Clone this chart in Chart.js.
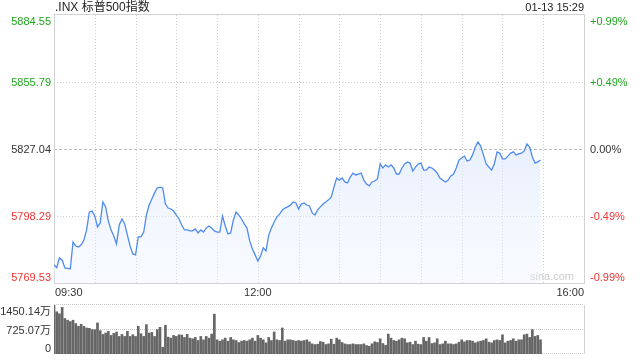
<!DOCTYPE html>
<html>
<head>
<meta charset="utf-8">
<script src="https://cdn.jsdelivr.net/npm/chart.js@4.4.0/dist/chart.umd.min.js"></script>
<style>
  html, body { margin: 0; padding: 0; background: #fff; }
  #wrap { position: relative; width: 640px; height: 360px; }
  #price { position: absolute; left: 0; top: 0; }
  #vol { position: absolute; left: 0; top: 298px; }
</style>
</head>
<body>
<div id="wrap">
  <canvas id="price" width="640" height="298"></canvas>
  <canvas id="vol" width="640" height="62"></canvas>
</div>
<script>
// index name + timestamp
const title = '.INX 标普500指数';
const stamp = '01-13 15:29';

// axis ticks
const priceTicks = [5884.55, 5855.79, 5827.04, 5798.29, 5769.53];
const pctTicks = ['+0.99%', '+0.49%', '0.00%', '-0.49%', '-0.99%'];
const timeTicks = ['09:30', '12:00', '16:00'];
const volTicks = [1450.14, 725.07, 0];
const volTickLabels = ['1450.14万', '725.07万', '0'];

// price, every 2 minutes from 09:30 to 15:28
const prices = [
  5777.3, 5776.1, 5780.3, 5779.4, 5776.0, 5775.8, 5775.6, 5787.1, 5785.4, 5785.0,
  5785.9, 5788.0, 5792.3, 5800.0, 5800.4, 5798.3, 5793.6, 5795.3, 5804.3, 5802.2,
  5796.1, 5792.3, 5789.7, 5786.3, 5794.4, 5797.0, 5794.9, 5790.1, 5785.4, 5782.0,
  5781.6, 5789.3, 5789.3, 5791.4, 5798.7, 5803.0, 5805.6, 5808.2, 5810.3, 5810.7,
  5810.3, 5803.4, 5801.7, 5801.3, 5800.4, 5798.7, 5797.0, 5794.4, 5792.3, 5792.3,
  5791.9, 5791.9, 5792.7, 5791.0, 5792.3, 5791.4, 5793.1, 5794.0, 5793.1, 5791.9,
  5791.4, 5791.4, 5798.3, 5794.0, 5790.6, 5791.0, 5796.6, 5800.0, 5798.7, 5797.0,
  5794.9, 5793.1, 5787.6, 5784.1, 5781.6, 5779.0, 5781.1, 5784.6, 5783.3, 5790.1,
  5793.1, 5795.7, 5797.9, 5799.1, 5800.9, 5801.7, 5802.2, 5803.0, 5804.3, 5803.9,
  5801.3, 5803.4, 5803.9, 5803.0, 5802.6, 5799.6, 5798.7, 5800.9, 5802.2, 5803.4,
  5804.3, 5805.2, 5806.4, 5810.7, 5814.6, 5813.7, 5814.6, 5812.9, 5812.5, 5815.0,
  5816.7, 5815.9, 5816.3, 5816.7, 5813.7, 5812.0, 5811.2, 5812.9, 5813.3, 5814.2,
  5820.6, 5818.9, 5820.2, 5819.3, 5820.2, 5818.9, 5816.3, 5816.3, 5818.9, 5820.6,
  5821.5, 5821.0, 5817.6, 5819.3, 5820.6, 5821.0, 5818.0, 5818.0, 5819.3, 5818.9,
  5818.0, 5816.7, 5814.6, 5813.7, 5812.9, 5813.7, 5815.5, 5816.3, 5818.9, 5822.3,
  5823.2, 5824.0, 5821.9, 5822.3, 5824.5, 5827.9, 5830.0, 5828.3, 5824.5, 5820.6,
  5819.3, 5818.0, 5820.6, 5825.8, 5825.3, 5822.8, 5822.8, 5824.0, 5825.3, 5825.8,
  5824.5, 5824.9, 5825.3, 5826.2, 5829.2, 5827.9, 5823.6, 5821.0, 5821.5, 5822.3
];

// volume in 万, same 2 minute buckets
const volumes = [
  1440, 1250, 1190, 1380, 1050, 1000, 960, 1000, 900, 820,
  880, 820, 770, 760, 720, 720, 920, 690, 580, 620,
  670, 550, 610, 650, 520, 580, 520, 670, 520, 570,
  520, 820, 600, 520, 870, 620, 640, 520, 720, 790,
  200, 850, 500, 470, 550, 520, 570, 560, 490, 580,
  470, 450, 490, 400, 520, 420, 520, 470, 590, 1180,
  420, 380, 420, 470, 380, 490, 420, 400, 340, 380,
  400, 380, 420, 470, 380, 550, 470, 420, 330, 490,
  400, 650, 420, 400, 770, 380, 420, 420, 400, 380,
  400, 380, 400, 420, 360, 300, 280, 290, 370, 350,
  280, 300, 440, 290, 470, 420, 340, 300, 280, 280,
  300, 280, 280, 280, 300, 250, 230, 300, 360, 340,
  450, 310, 260, 590, 470, 400, 380, 420, 470, 450,
  330, 350, 280, 380, 290, 280, 490, 380, 490, 310,
  330, 450, 280, 300, 380, 300, 300, 280, 300, 350,
  420, 360, 400, 400, 380, 330, 360, 380, 400, 450,
  350, 330, 400, 420, 400, 570, 330, 380, 400, 450,
  380, 420, 420, 570, 590, 490, 720, 520, 550, 420
];

// trading session labels 09:30 .. 16:00, 2 min apart
const times = [];
for (let m = 0; m <= 390; m += 2) {
  const t = 9 * 60 + 30 + m;
  times.push(String(Math.floor(t / 60)).padStart(2, '0') + ':' + String(t % 60).padStart(2, '0'));
}

const FONT = '"Liberation Sans", Arial, "Noto Sans CJK SC", sans-serif';
const GREEN = '#1fa81f';
const RED = '#f03434';
const DARK = '#333';
const tickColors = [GREEN, GREEN, DARK, RED, RED];

function hline(ctx, a, py) {
  ctx.beginPath();
  ctx.moveTo(a.left, py);
  ctx.lineTo(a.right, py);
  ctx.stroke();
}

const priceDeco = {
  id: 'priceDeco',
  beforeDatasetsDraw(chart) {
    const { ctx, chartArea: a, scales: { x, y } } = chart;
    ctx.save();
    ctx.lineWidth = 1;
    ctx.strokeStyle = '#cfcfcf';
    ctx.setLineDash([1, 2]);
    times.forEach((t, i) => {
      if (i === 0 || i === times.length - 1) return;
      if (!t.endsWith(':00') && !t.endsWith(':30')) return;
      const px = Math.round(x.getPixelForValue(i)) + 0.5;
      ctx.beginPath();
      ctx.moveTo(px, a.top);
      ctx.lineTo(px, a.bottom);
      ctx.stroke();
    });
    priceTicks.forEach((v, i) => {
      if (i === 0 || i === priceTicks.length - 1) return;
      ctx.setLineDash(i === 2 ? [3, 2] : [1, 2]);
      ctx.strokeStyle = i === 2 ? '#bdbdbd' : '#cfcfcf';
      hline(ctx, a, Math.round(y.getPixelForValue(v)) + 0.5);
    });
    ctx.setLineDash([]);
    ctx.strokeStyle = '#d2d2d2';
    ctx.strokeRect(Math.round(a.left) + 0.5, Math.round(a.top) - 0.5,
      Math.round(a.width), Math.round(a.height) + 1);

    // watermark
    ctx.font = '11px ' + FONT;
    ctx.fillStyle = '#cccccc';
    ctx.textAlign = 'right';
    ctx.textBaseline = 'middle';
    ctx.fillText('sina.com', 574, a.bottom - 6);
    ctx.restore();
  },
  afterDraw(chart) {
    const { ctx, chartArea: a, scales: { x, y } } = chart;
    ctx.save();
    ctx.textBaseline = 'middle';
    ctx.font = '12px ' + FONT;
    ctx.fillStyle = '#222';
    ctx.textAlign = 'left';
    ctx.fillText(title, a.left + 1, 8);
    ctx.font = '11px ' + FONT;
    ctx.textAlign = 'right';
    ctx.fillText(stamp, a.right, 8);

    priceTicks.forEach((v, i) => {
      let py = y.getPixelForValue(v);
      py = Math.min(Math.max(py, a.top + 6), a.bottom - 6);
      ctx.fillStyle = tickColors[i];
      ctx.textAlign = 'right';
      ctx.fillText(v.toFixed(2), a.left - 3, py + 1);
      ctx.textAlign = 'left';
      ctx.fillText(pctTicks[i], a.right + 6, py + 1);
    });

    ctx.fillStyle = DARK;
    timeTicks.forEach((t, i) => {
      const px = x.getPixelForValue(times.indexOf(t));
      ctx.textAlign = i === 0 ? 'left' : (i === timeTicks.length - 1 ? 'right' : 'center');
      ctx.fillText(t, i === 0 ? px + 1 : px, 293);
    });
    ctx.restore();
  }
};

const volDeco = {
  id: 'volDeco',
  beforeDatasetsDraw(chart) {
    const { ctx, chartArea: a, scales: { y } } = chart;
    ctx.save();
    ctx.lineWidth = 1;
    ctx.strokeStyle = '#c8c8c8';
    ctx.setLineDash([1, 1]);
    volTicks.forEach(v => hline(ctx, a, Math.round(y.getPixelForValue(v)) - 0.5));
    ctx.setLineDash([]);
    ctx.strokeStyle = '#d2d2d2';
    [a.left, a.right].forEach(px => {
      ctx.beginPath();
      ctx.moveTo(Math.round(px) + 0.5, a.top);
      ctx.lineTo(Math.round(px) + 0.5, a.bottom);
      ctx.stroke();
    });
    ctx.restore();
  },
  afterDraw(chart) {
    const { ctx, chartArea: a, scales: { y } } = chart;
    ctx.save();
    ctx.font = '11px ' + FONT;
    ctx.fillStyle = DARK;
    ctx.textAlign = 'right';
    ctx.textBaseline = 'middle';
    volTicks.forEach((v, i) => {
      let py = y.getPixelForValue(v);
      py = Math.min(Math.max(py, a.top + 6), a.bottom - 6);
      ctx.fillText(volTickLabels[i], a.left - 3, py + 1);
    });
    ctx.restore();
  }
};

new Chart(document.getElementById('price'), {
  type: 'line',
  data: {
    labels: times,
    datasets: [{
      data: prices,
      borderColor: '#4f8bee',
      borderWidth: 1.3,
      pointRadius: 0,
      tension: 0,
      fill: 'start',
      backgroundColor(c) {
        const a = c.chart.chartArea;
        if (!a) return 'rgba(0,0,0,0)';
        const g = c.chart.ctx.createLinearGradient(0, a.top, 0, a.bottom);
        g.addColorStop(0, 'rgba(200,218,250,0.8)');
        g.addColorStop(1, 'rgba(236,242,253,0.35)');
        return g;
      }
    }]
  },
  options: {
    responsive: false,
    animation: false,
    devicePixelRatio: 1,
    layout: { padding: { left: 54, right: 56, top: 15, bottom: 15 } },
    plugins: { legend: { display: false }, tooltip: { enabled: false } },
    scales: {
      x: { type: 'category', display: false, offset: false },
      y: { display: false, min: priceTicks[priceTicks.length - 1], max: priceTicks[0] }
    }
  },
  plugins: [priceDeco]
});

new Chart(document.getElementById('vol'), {
  type: 'bar',
  data: {
    labels: times,
    datasets: [{
      data: volumes,
      backgroundColor: '#666',
      barThickness: 2
    }]
  },
  options: {
    responsive: false,
    animation: false,
    devicePixelRatio: 1,
    layout: { padding: { left: 54, right: 56, top: 7, bottom: 6 } },
    plugins: { legend: { display: false }, tooltip: { enabled: false } },
    scales: {
      x: { type: 'category', display: false, offset: false },
      y: { display: false, min: 0, max: volTicks[0] }
    }
  },
  plugins: [volDeco]
});
</script>
</body>
</html>
